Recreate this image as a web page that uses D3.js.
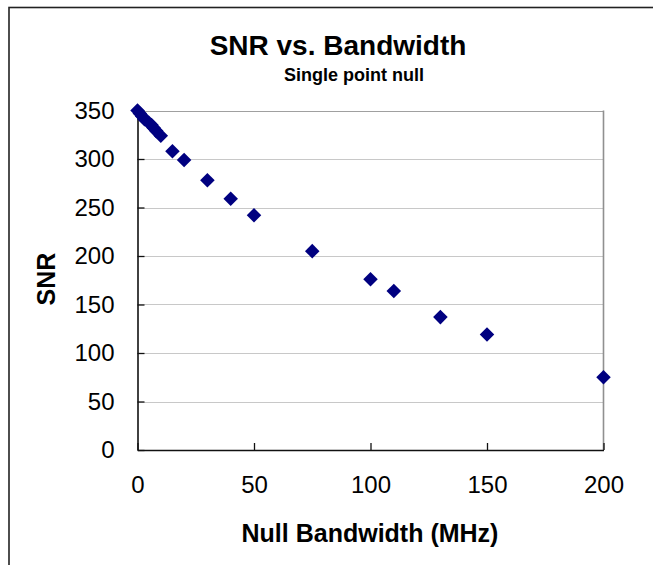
<!DOCTYPE html>
<html><head><meta charset="utf-8">
<script src="https://cdn.jsdelivr.net/npm/d3@7"></script>
<style>html,body{margin:0;padding:0;background:#fff;}svg{display:block;font-family:"Liberation Sans",Arial,sans-serif;}</style>
</head><body>
<svg id="chart" width="653" height="565"></svg>
<script>
const bandwidth = [0, 1, 2, 3, 5, 6, 7, 8, 10, 15, 20, 30, 40, 50, 75, 100, 110, 130, 150, 200];
const snr       = [350, 347, 344, 341, 337, 335, 332, 329, 324, 308, 299, 278, 259, 242, 205, 176, 164, 137, 119, 75];
const xTicks = [0, 50, 100, 150, 200];
const yTicks = [0, 50, 100, 150, 200, 250, 300, 350];
const titleText = "SNR vs. Bandwidth";
const subtitleText = "Single point null";
const xTitle = "Null Bandwidth (MHz)";
const yTitle = "SNR";

const svg = d3.select("#chart");
svg.append("rect").attr("width",653).attr("height",565).attr("fill","#fff");
// outer chart border
svg.append("rect").attr("x",9).attr("y",7.5).attr("width",700).attr("height",700)
  .attr("fill","none").attr("stroke","#222").attr("stroke-width",1.6);

const L=137.5, R=603.5, T=110.5, B=450;
const x = d3.scaleLinear().domain([0,200]).range([L,R]);
const y = d3.scaleLinear().domain([0,350]).range([B,T]);

// gridlines
svg.append("g").selectAll("line").data(yTicks.filter(d=>d>0)).join("line")
  .attr("x1",L).attr("x2",R).attr("y1",d=>Math.round(y(d))+0.5).attr("y2",d=>Math.round(y(d))+0.5)
  .attr("stroke",d=>d===350?"#a0a0a0":"#c8c8c8").attr("stroke-width",1.2);
// right border
svg.append("line").attr("x1",R).attr("x2",R).attr("y1",T).attr("y2",B)
  .attr("stroke","#909090").attr("stroke-width",1.6);

// axes
const yAxis = d3.axisLeft(y).tickValues(yTicks).tickSizeInner(-7).tickSizeOuter(0).tickPadding(23);
const gy = svg.append("g").attr("transform",`translate(${L},0)`).call(yAxis);
const xAxis = d3.axisBottom(x).tickValues(xTicks).tickSizeInner(-7).tickSizeOuter(0).tickPadding(26);
const gx = svg.append("g").attr("transform",`translate(0,${B})`).call(xAxis);
[gx,gy].forEach(g=>{
  g.select(".domain").attr("stroke","#111").attr("stroke-width",1.6);
  g.selectAll(".tick line").attr("stroke","#111").attr("stroke-width",1.3);
  g.selectAll("text").attr("font-size",24).attr("fill","#000").attr("font-family","Liberation Sans, Arial, sans-serif");
});

// points (diamonds)
svg.append("g").selectAll("path").data(bandwidth.map((b,i)=>[b,snr[i]])).join("path")
  .attr("d", d3.symbol().type(d3.symbolDiamond2).size(135))
  .attr("transform", d=>`translate(${x(d[0])},${y(d[1])})`)
  .attr("fill","#000080");

// titles
svg.append("text").attr("x",338).attr("y",55).attr("text-anchor","middle")
  .attr("font-size",28).attr("font-weight","bold").text(titleText);
svg.append("text").attr("x",354).attr("y",81).attr("text-anchor","middle")
  .attr("font-size",18).attr("font-weight","bold").text(subtitleText);
svg.append("text").attr("x",370).attr("y",542).attr("text-anchor","middle")
  .attr("font-size",25).attr("font-weight","bold").text(xTitle);
svg.append("text").attr("transform","translate(55,279) rotate(-90)").attr("text-anchor","middle")
  .attr("font-size",25).attr("font-weight","bold").text(yTitle);
</script>
</body></html>
